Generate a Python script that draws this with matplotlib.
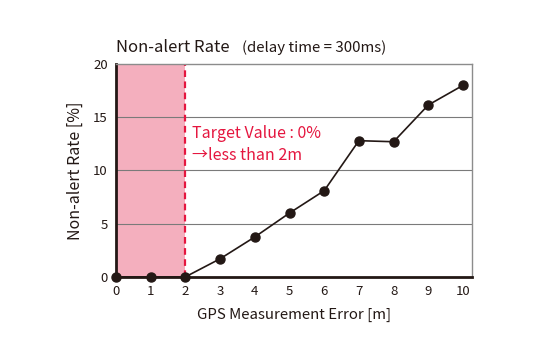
import matplotlib
matplotlib.use("Agg")
import matplotlib.pyplot as plt

plt.rcParams['font.family'] = ['Noto Sans CJK JP', 'DejaVu Sans']

error_m = [0, 1, 2, 3, 4, 5, 6, 7, 8, 9, 10]
non_alert_rate = [0, 0, 0, 1.7, 3.75, 6.0, 8.1, 12.8, 12.7, 16.15, 18.0]
y_ticks = [0, 5, 10, 15, 20]
target_m = 2

fig = plt.figure(figsize=(5.4, 3.6), dpi=100)
ax = fig.add_axes([0.215, 0.231, 0.659, 0.591])

ax.axvspan(0, target_m, color='#f4afbe', zorder=0, lw=0)
ax.axvline(target_m, color='#e5163f', ls=(0, (3, 2)), lw=1.6, zorder=2)

for v in y_ticks[1:-1]:
    ax.axhline(v, color='#7a7a7a', lw=0.8, zorder=1)

ax.plot(error_m, non_alert_rate, color='#231815', lw=1.2, marker='o',
        markersize=6.5, zorder=4, clip_on=False)

ax.set_xlim(0, 10.26)
ax.set_ylim(0, 20)
ax.set_xticks(error_m)
ax.set_yticks(y_ticks)
ax.tick_params(length=0, labelsize=9.5, colors='#231815', pad=6)

for s in ['top', 'right']:
    ax.spines[s].set_color('#8c8c8c')
    ax.spines[s].set_linewidth(1.0)
for s in ['left', 'bottom']:
    ax.spines[s].set_color('#231815')
    ax.spines[s].set_linewidth(2.0)

ax.set_xlabel('GPS Measurement Error [m]', fontsize=10.8, color='#231815', labelpad=7)
ax.set_ylabel('Non-alert Rate [%]', fontsize=11.5, color='#231815', labelpad=7)

fig.text(0.215, 0.855, 'Non-alert Rate', fontsize=12, color='#231815')
fig.text(0.448, 0.855, '(delay time = 300ms)', fontsize=10.8, color='#231815')

ax.text(2.2, 14.3, 'Target Value : 0%\n→less than 2m', fontsize=11.5,
        color='#e5163f', va='top', ha='left', linespacing=1.4)

fig.savefig('out.png', dpi=100)
